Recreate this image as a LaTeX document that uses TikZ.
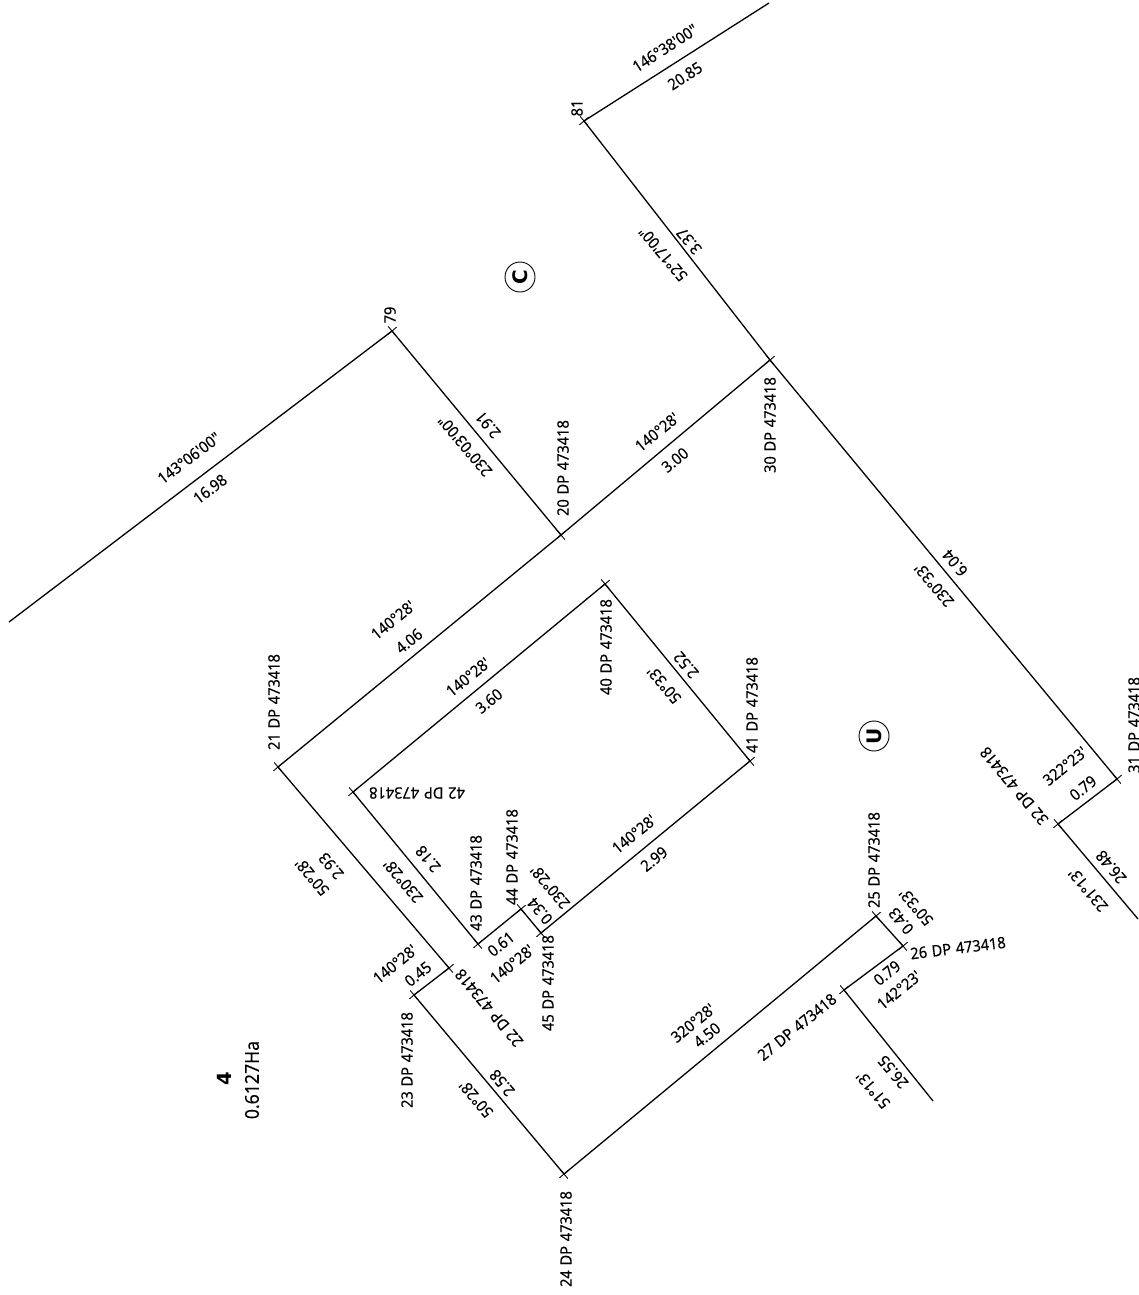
\documentclass[tikz,border=0pt]{standalone}
\usepackage{fontspec}
\newfontfamily\lblfont{Noto Sans}[FakeStretch=0.93,FakeBold=0.15,WordSpace=1.25]
\newfontfamily\lblbold{DejaVu Sans}
\usetikzlibrary{shapes.misc}
\tikzset{
  lab/.style={font=\lblfont\fontsize{15.7}{17}\selectfont,inner sep=0pt},
  lU/.style={lab,rotate=130},
  lR/.style={lab,rotate=39},
  lV/.style={lab,rotate=90},
  bnd/.style={line width=1.3pt,black},
  crossm/.style={cross out,draw=black,line width=0.9pt,minimum size=7.5pt,inner sep=0pt,rotate=-5},
  ring/.style={circle,draw=black,line width=0.9pt,minimum size=30pt,inner sep=0pt,rotate=90,font=\lblbold\bfseries\fontsize{20}{22}\selectfont}
}
\begin{document}
\begin{tikzpicture}[x=1pt,y=-1pt]
\useasboundingbox (0,0) rectangle (1138,1295);
% survey points
\node[crossm] (p81) at (584,121) {};
\node[crossm] (p79) at (392,331) {};
\node[crossm] (p30) at (770,360) {};
\node[crossm] (p20) at (561,535) {};
\node[crossm] (p21) at (278,767) {};
\node[crossm] (p40) at (605,584) {};
\node[crossm] (p41) at (750,761) {};
\node[crossm] (p42) at (353,792) {};
\node[crossm] (p43) at (478,944) {};
\node[crossm] (p44) at (521,909) {};
\node[crossm] (p45) at (541,933) {};
\node[crossm] (p22) at (449,968) {};
\node[crossm] (p23) at (414,995) {};
\node[crossm] (p24) at (564,1174) {};
\node[crossm] (p25) at (876,916) {};
\node[crossm] (p26) at (903,946) {};
\node[crossm] (p27) at (844,990) {};
\node[crossm] (p31) at (1117,779) {};
\node[crossm] (p32) at (1058,824) {};
\coordinate (endA) at (769,3);
\coordinate (endB) at (9,622);
\coordinate (endC) at (933,1101);
\coordinate (endD) at (1138,919);
% boundaries
\draw[bnd] (endA) -- (p81.center) -- (p30.center) -- (p31.center) -- (p32.center) -- (endD);
\draw[bnd] (endB) -- (p79.center) -- (p20.center);
\draw[bnd] (p30.center) -- (p20.center) -- (p21.center) -- (p22.center) -- (p23.center) -- (p24.center) -- (p25.center) -- (p26.center) -- (p27.center) -- (endC);
\draw[bnd] (p40.center) -- (p41.center) -- (p45.center) -- (p44.center) -- (p43.center) -- (p42.center) -- cycle;
% labels
\node[lab,rotate=33] (t1) at (665,48) {146°38'00"};
\node[lab,rotate=33] (t2) at (685,76) {20.85};
\node[lV] (t3) at (577,108) {81};
\node[lU] (t4) at (689,241) {3.37};
\node[lU] (t5) at (663,254) {52°17'00"};
\node[ring] (c) at (520,277) {C};
\node[lV] (t6) at (390,315) {79};
\node[lU] (t7) at (488,425) {2.91};
\node[lU] (t8) at (465,446) {230°03'00"};
\node[lab,rotate=37] (t9) at (189,458) {143°06'00"};
\node[lab,rotate=37] (t10) at (210,489) {16.98};
\node[lV] (t11) at (563,468) {20 DP 473418};
\node[lV] (t12) at (770,425) {30 DP 473418};
\node[lR] (t13) at (657,432) {140°28'};
\node[lR] (t14) at (675,460) {3.00};
\node[lU] (t15) at (955,563) {6.04};
\node[lU] (t16) at (934,585) {230°33'};
\node[lR] (t17) at (393,620) {140°28'};
\node[lR] (t18) at (409,641) {4.06};
\node[lV] (t19) at (606,647) {40 DP 473418};
\node[lR] (t20) at (468,677) {140°28'};
\node[lR] (t21) at (489,701) {3.60};
\node[lU] (t22) at (686,665) {2.52};
\node[lU] (t23) at (664,685) {50°33'};
\node[lV] (t24) at (752,705) {41 DP 473418};
\node[lV] (t25) at (274,702) {21 DP 473418};
\node[lab,rotate=180] (t26) at (417,793) {42 DP 473418};
\node[ring] (u) at (874,736) {U};
\node[lV] (t27) at (1134,725) {31 DP 473418};
\node[lU] (t28) at (1014,786) {32 DP 473418};
\node[lR] (t29) at (1065,766) {322°23'};
\node[lR] (t30) at (1083,788) {0.79};
\node[lU] (t31) at (1111,867) {26.48};
\node[lU] (t32) at (1088,890) {231°13'};
\node[lV] (t33) at (874,860) {25 DP 473418};
\node[lU] (t34) at (916,907) {50°33'};
\node[lU] (t35) at (901,921) {0.43};
\node[lab,rotate=7] (t36) at (958,948) {26 DP 473418};
\node[lR] (t37) at (887,973) {0.79};
\node[lR] (t38) at (899,990) {142°23'};
\node[lR] (t39) at (797,1027) {27 DP 473418};
\node[lU] (t40) at (873,1090) {51°13'};
\node[lU] (t41) at (893,1072) {26.55};
\node[lU] (t42) at (428,859) {2.18};
\node[lU] (t43) at (403,881) {230°28'};
\node[lU] (t44) at (331,866) {2.93};
\node[lU] (t45) at (312,877) {50°28'};
\node[lV] (t46) at (476,883) {43 DP 473418};
\node[lV] (t47) at (512,857) {44 DP 473418};
\node[lU] (t48) at (550,887) {230°28'};
\node[lU] (t49) at (540,911) {0.34};
\node[lR] (t50) at (634,834) {140°28'};
\node[lR] (t51) at (654,859) {2.99};
\node[lR] (t52) at (501,944) {0.61};
\node[lR] (t53) at (512,964) {140°28'};
\node[lV] (t54) at (548,983) {45 DP 473418};
\node[lR] (t55) at (395,964) {140°28'};
\node[lR] (t56) at (418,974) {0.45};
\node[lU] (t57) at (489,1008) {22 DP 473418};
\node[lV] (t58) at (407,1060) {23 DP 473418};
\node[lU] (t59) at (502,1083) {2.58};
\node[lU] (t60) at (476,1099) {50°28'};
\node[lR] (t61) at (693,1023) {320°28'};
\node[lR] (t62) at (707,1035) {4.50};
\node[lV] (t63) at (566,1239) {24 DP 473418};
\node[lV,font=\lblbold\bfseries\fontsize{19.5}{22}\selectfont] (t64) at (224,1079) {4};
\node[lV,font=\lblfont\fontsize{19}{22}\selectfont] (t65) at (252,1080) {0.6127Ha};
\end{tikzpicture}
\end{document}
